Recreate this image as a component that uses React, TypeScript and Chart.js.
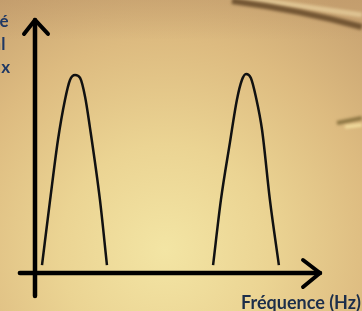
import { useEffect, useRef } from "react";
import { Chart, registerables } from "chart.js";

Chart.register(...registerables);

// Spectral peaks (frequency in arbitrary units, amplitude normalised)
const peak1Freq = [0.25, 0.54, 0.82, 1.07, 1.25, 1.43, 1.61, 1.79, 1.96, 2.32, 2.57];
const peak1Amp = [0.04, 0.369, 0.672, 0.874, 0.975, 1.0, 0.985, 0.889, 0.737, 0.369, 0.04];
const peak2Freq = [6.36, 6.64, 6.96, 7.21, 7.39, 7.54, 7.71, 7.89, 8.11, 8.39, 8.71];
const peak2Amp = [0.04, 0.369, 0.657, 0.874, 0.975, 1.005, 0.985, 0.889, 0.722, 0.369, 0.04];

// Axis arrows (data units)
const xAxisExtent = [-0.54, 10.18];
const yAxisExtent = [-0.116, 1.278];

// Texts
const yTitleLines = ["Intensité", "du signal", "de flux"];
const xTitle = "Fréquence (Hz)";

const W = 362;
const H = 311;
const yTitleRightEdges = [8.5, 5.5, 10];

const backgroundPlugin = {
  id: "parchment",
  beforeDraw(chart: any) {
    const ctx = chart.ctx as CanvasRenderingContext2D;
    ctx.save();
    const g = ctx.createRadialGradient(165, 250, 0, 165, 250, 300);
    g.addColorStop(0, "#f3e5a4");
    g.addColorStop(0.35, "#ebd493");
    g.addColorStop(0.7, "#ddbb80");
    g.addColorStop(1, "#c9a472");
    ctx.fillStyle = g;
    ctx.fillRect(0, 0, W, H);
    const tg = ctx.createLinearGradient(0, 0, 0, 40);
    tg.addColorStop(0, "rgba(185,145,100,0.35)");
    tg.addColorStop(1, "rgba(185,145,100,0)");
    ctx.fillStyle = tg;
    ctx.fillRect(0, 0, W, 40);
    ctx.filter = "blur(1.5px)";
    ctx.strokeStyle = "rgba(240,220,170,0.6)";
    ctx.lineWidth = 5;
    ctx.beginPath();
    ctx.moveTo(225, -5);
    ctx.lineTo(362, 15);
    ctx.stroke();
    ctx.strokeStyle = "rgba(100,72,40,0.85)";
    ctx.lineWidth = 6;
    ctx.beginPath();
    ctx.moveTo(232, 1);
    ctx.quadraticCurveTo(300, 10, 362, 27);
    ctx.stroke();
    ctx.strokeStyle = "rgba(120,100,50,0.8)";
    ctx.lineWidth = 4;
    ctx.beginPath();
    ctx.moveTo(337, 123);
    ctx.lineTo(362, 118);
    ctx.stroke();
    ctx.strokeStyle = "rgba(250,235,170,0.8)";
    ctx.lineWidth = 3;
    ctx.beginPath();
    ctx.moveTo(345, 127);
    ctx.lineTo(362, 125);
    ctx.stroke();
    ctx.restore();
  },
};

const axesPlugin = {
  id: "arrowAxes",
  beforeDatasetsDraw(chart: any) {
    const ctx = chart.ctx as CanvasRenderingContext2D;
    const xs = chart.scales.x;
    const ys = chart.scales.y;
    const x0 = xs.getPixelForValue(0);
    const y0 = ys.getPixelForValue(0);
    const xl = xs.getPixelForValue(xAxisExtent[0]);
    const xr = xs.getPixelForValue(xAxisExtent[1]);
    const yb = ys.getPixelForValue(yAxisExtent[0]);
    const yt = ys.getPixelForValue(yAxisExtent[1]);
    ctx.save();
    ctx.strokeStyle = "#000";
    ctx.lineCap = "round";
    ctx.lineJoin = "round";
    ctx.lineWidth = 4.5;
    ctx.beginPath();
    ctx.moveTo(xl, y0);
    ctx.lineTo(xr, y0);
    ctx.moveTo(x0, yb);
    ctx.lineTo(x0, yt);
    ctx.stroke();
    ctx.lineWidth = 4;
    ctx.beginPath();
    ctx.moveTo(xr - 17, y0 - 13);
    ctx.lineTo(xr, y0);
    ctx.lineTo(xr - 17, y0 + 14);
    ctx.moveTo(x0 - 11, yt + 14);
    ctx.lineTo(x0, yt);
    ctx.lineTo(x0 + 13, yt + 14);
    ctx.stroke();
    ctx.restore();
  },
  afterDraw(chart: any) {
    const ctx = chart.ctx as CanvasRenderingContext2D;
    ctx.save();
    ctx.fillStyle = "#1f3864";
    ctx.font = "bold 17px Lato";
    ctx.textAlign = "right";
    ctx.textBaseline = "alphabetic";
    yTitleLines.forEach((t, i) => {
      // the title is cut by the left edge of the picture: only its last letter shows
      const right = yTitleRightEdges[i];
      const lastW = ctx.measureText(t.slice(-1)).width;
      ctx.save();
      ctx.beginPath();
      ctx.rect(right - lastW - 0.5, 0, lastW + 2, H);
      ctx.clip();
      ctx.fillText(t, right, 27 + i * 23);
      ctx.restore();
    });
    ctx.fillStyle = "#1c2e4a";
    ctx.font = "bold 18px Lato";
    ctx.fillText(xTitle, 361, 309);
    ctx.restore();
  },
};

export default function App() {
  const ref = useRef<HTMLCanvasElement | null>(null);
  useEffect(() => {
    if (!ref.current) return;
    const toPts = (xs: number[], ys: number[]) => xs.map((x, i) => ({ x, y: ys[i] }));
    const ds = (pts: any) => ({
      data: pts,
      borderColor: "#111",
      borderWidth: 2.5,
      pointRadius: 0,
      fill: false,
      cubicInterpolationMode: "monotone" as const,
    });
    const chart = new Chart(ref.current, {
      type: "line",
      data: {
        datasets: [ds(toPts(peak1Freq, peak1Amp)), ds(toPts(peak2Freq, peak2Amp))],
      },
      options: {
        animation: false,
        responsive: false,
        maintainAspectRatio: false,
        devicePixelRatio: 1,
        layout: { padding: 0 },
        scales: {
          x: { type: "linear", display: false, min: -1.25, max: 11.679 },
          y: { type: "linear", display: false, min: -0.1919, max: 1.3788 },
        },
        plugins: { legend: { display: false }, tooltip: { enabled: false } },
      },
      plugins: [backgroundPlugin, axesPlugin],
    });
    return () => chart.destroy();
  }, []);
  return (
    <div style={{ position: "fixed", left: 0, top: 0, width: W, height: H }}>
      <canvas ref={ref} width={W} height={H} style={{ display: "block" }} />
    </div>
  );
}
